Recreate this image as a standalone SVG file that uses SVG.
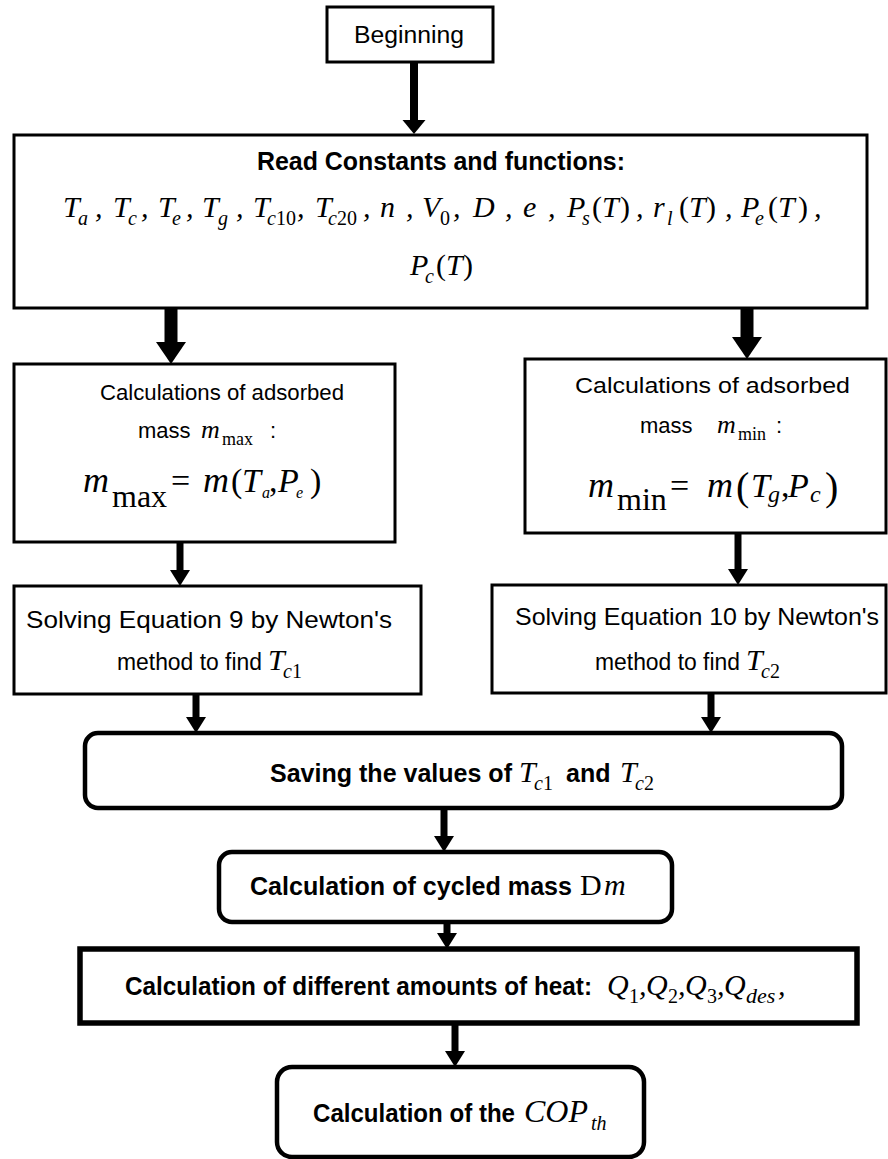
<svg xmlns="http://www.w3.org/2000/svg" width="888" height="1159" viewBox="0 0 888 1159">
<defs>
<style>
.box{fill:#fff;stroke:#000;stroke-width:3}
.rbox{fill:#fff;stroke:#000;stroke-width:4.5}
.thick{stroke-width:5.5}
.t{font-family:"Liberation Sans",Arial,sans-serif;font-size:22px;fill:#000}
.b{font-weight:bold;font-size:25px}
.m{font-family:"Liberation Serif","Times New Roman",serif;font-style:italic;font-size:30px;fill:#000}
.u{font-style:normal}
.s{font-size:20px}
.conn line{stroke:#000}
</style>
<marker id="ahS" markerUnits="userSpaceOnUse" markerWidth="16" markerHeight="20" refX="0" refY="10" orient="auto" overflow="visible"><path d="M0,0 L16,10 L0,20 Z" fill="#000"/></marker>
<marker id="ahM" markerUnits="userSpaceOnUse" markerWidth="14" markerHeight="23" refX="0" refY="11.5" orient="auto" overflow="visible"><path d="M0,0 L14,11.5 L0,23 Z" fill="#000"/></marker>
<marker id="ahL" markerUnits="userSpaceOnUse" markerWidth="22" markerHeight="30" refX="0" refY="15" orient="auto" overflow="visible"><path d="M0,0 L22,15 L0,30 Z" fill="#000"/></marker>
</defs>
<rect width="888" height="1159" fill="#fff"/>

<g id="connectors" class="conn">
<line x1="414" y1="62" x2="414" y2="120" stroke-width="8" marker-end="url(#ahM)"/>
<line x1="171" y1="308" x2="171" y2="342" stroke-width="13" marker-end="url(#ahL)"/>
<line x1="747" y1="308" x2="747" y2="337" stroke-width="13" marker-end="url(#ahL)"/>
<line x1="180" y1="542" x2="180" y2="570" stroke-width="7" marker-end="url(#ahS)"/>
<line x1="738" y1="533" x2="738" y2="569" stroke-width="7" marker-end="url(#ahS)"/>
<line x1="196" y1="694" x2="196" y2="717" stroke-width="7" marker-end="url(#ahS)"/>
<line x1="711" y1="693" x2="711" y2="717" stroke-width="7" marker-end="url(#ahS)"/>
<line x1="444" y1="808" x2="444" y2="836" stroke-width="7" marker-end="url(#ahS)"/>
<line x1="447" y1="922" x2="447" y2="933" stroke-width="7" marker-end="url(#ahS)"/>
<line x1="455" y1="1023" x2="455" y2="1051" stroke-width="7" marker-end="url(#ahS)"/>
</g>

<g id="beginning">
<rect class="box" x="327" y="7" width="166" height="55"/>
<text class="t" x="354" y="43" style="font-size:23px" textLength="110" lengthAdjust="spacingAndGlyphs">Beginning</text>
</g>

<g id="read">
<rect class="box" x="14" y="135" width="853" height="173"/>
<text class="t b" x="257" y="170" textLength="368" lengthAdjust="spacingAndGlyphs">Read Constants and functions:</text>
<text class="m"><tspan x="63" y="217">T</tspan><tspan class="s" x="78" y="225">a</tspan><tspan x="95" y="217">,</tspan><tspan x="113" y="217">T</tspan><tspan class="s" x="128" y="225">c</tspan><tspan x="141" y="217">,</tspan><tspan x="158" y="217">T</tspan><tspan class="s" x="172" y="225">e</tspan><tspan x="186" y="217">,</tspan><tspan x="202" y="217">T</tspan><tspan class="s" x="218" y="225">g</tspan><tspan x="236" y="217">,</tspan><tspan x="253" y="217">T</tspan><tspan class="s" x="267" y="225">c</tspan><tspan class="s u" x="276" y="225">10</tspan><tspan x="297" y="217">,</tspan><tspan x="315" y="217">T</tspan><tspan class="s" x="328" y="225">c</tspan><tspan class="s u" x="337" y="225">20</tspan><tspan x="363" y="217">,</tspan><tspan x="380" y="217">n</tspan><tspan x="406" y="217">,</tspan><tspan x="422" y="217">V</tspan><tspan class="s u" x="440" y="225">0</tspan><tspan x="453" y="217">,</tspan><tspan x="473" y="217">D</tspan><tspan x="505" y="217">,</tspan><tspan x="523" y="217">e</tspan><tspan x="548" y="217">,</tspan><tspan x="567" y="217">P</tspan><tspan class="s" x="582" y="225">s</tspan><tspan class="u" x="592" y="217">(</tspan><tspan x="602" y="217">T</tspan><tspan class="u" x="620" y="217">)</tspan><tspan x="636" y="217">,</tspan><tspan x="653" y="217">r</tspan><tspan class="s" x="667" y="225">l</tspan><tspan class="u" x="679" y="217">(</tspan><tspan x="689" y="217">T</tspan><tspan class="u" x="706" y="217">)</tspan><tspan x="725" y="217">,</tspan><tspan x="741" y="217">P</tspan><tspan class="s" x="755" y="225">e</tspan><tspan class="u" x="768" y="217">(</tspan><tspan x="778" y="217">T</tspan><tspan class="u" x="798" y="217">)</tspan><tspan x="814" y="217">,</tspan></text>
<text class="m"><tspan x="410" y="275">P</tspan><tspan class="s" x="425" y="283">c</tspan><tspan class="u" x="436" y="275">(</tspan><tspan x="446" y="275">T</tspan><tspan class="u" x="463" y="275">)</tspan></text>
</g>

<g id="calc-max">
<rect class="box" x="14" y="364" width="381" height="178"/>
<text class="t" x="100" y="400" textLength="244" lengthAdjust="spacingAndGlyphs">Calculations of adsorbed</text>
<text class="t" x="138" y="438">mass</text>
<text class="m" x="201" y="438" style="font-size:26px">m</text>
<text class="m u" x="222" y="445" style="font-size:18px">max</text>
<text class="t" x="270" y="438">:</text>
<text class="m" style="font-size:34px"><tspan x="83" y="492" font-size="36">m</tspan><tspan class="u" x="112" y="507" font-size="32">max</tspan><tspan class="u" x="171" y="492">=</tspan><tspan x="203" y="492" font-size="36">m</tspan><tspan class="u" x="231" y="492">(</tspan><tspan x="242" y="492">T</tspan><tspan x="262" y="498" font-size="16">a</tspan><tspan class="u" x="269" y="492">,</tspan><tspan x="278" y="492">P</tspan><tspan x="296" y="498" font-size="16">e</tspan><tspan class="u" x="310" y="492">)</tspan></text>
</g>

<g id="calc-min">
<rect class="box" x="525" y="359" width="361" height="174"/>
<text class="t" x="575" y="393" textLength="275" lengthAdjust="spacingAndGlyphs">Calculations of adsorbed</text>
<text class="t" x="640" y="433">mass</text>
<text class="m" x="717" y="433" style="font-size:26px">m</text>
<text class="m u" x="738" y="440" style="font-size:18px">min</text>
<text class="t" x="776" y="433">:</text>
<text class="m" style="font-size:34px"><tspan x="588" y="497" font-size="36">m</tspan><tspan class="u" x="617" y="510" font-size="32">min</tspan><tspan class="u" x="670" y="497">=</tspan><tspan x="707" y="497" font-size="36">m</tspan><tspan class="u" x="736" y="500" font-size="40">(</tspan><tspan x="751" y="497">T</tspan><tspan x="768" y="502" font-size="24">g</tspan><tspan class="u" x="781" y="497">,</tspan><tspan x="788" y="497">P</tspan><tspan x="810" y="502" font-size="24">c</tspan><tspan class="u" x="825" y="500" font-size="40">)</tspan></text>
</g>

<g id="solve-9">
<rect class="box" x="14" y="586" width="407" height="108"/>
<text class="t" x="26" y="628" style="font-size:24px" textLength="366" lengthAdjust="spacingAndGlyphs">Solving Equation 9 by Newton's</text>
<text class="t" x="117" y="670" style="font-size:23px" textLength="145" lengthAdjust="spacingAndGlyphs">method to find</text>
<text class="m"><tspan x="268" y="670">T</tspan><tspan class="s" x="283" y="678">c</tspan><tspan class="s u" x="292" y="678">1</tspan></text>
</g>

<g id="solve-10">
<rect class="box" x="492" y="585" width="394" height="108"/>
<text class="t" x="515" y="625" style="font-size:24px" textLength="364" lengthAdjust="spacingAndGlyphs">Solving Equation 10 by Newton's</text>
<text class="t" x="595" y="670" style="font-size:23px" textLength="145" lengthAdjust="spacingAndGlyphs">method to find</text>
<text class="m"><tspan x="746" y="670">T</tspan><tspan class="s" x="761" y="678">c</tspan><tspan class="s u" x="770" y="678">2</tspan></text>
</g>

<g id="saving">
<rect class="rbox" x="85" y="733" width="757" height="75" rx="13"/>
<text class="t b" x="270" y="782" textLength="242" lengthAdjust="spacingAndGlyphs">Saving the values of</text>
<text class="m"><tspan x="519" y="782">T</tspan><tspan class="s" x="534" y="790">c</tspan><tspan class="s u" x="543" y="790">1</tspan></text>
<text class="t b" x="566" y="782">and</text>
<text class="m"><tspan x="620" y="782">T</tspan><tspan class="s" x="635" y="790">c</tspan><tspan class="s u" x="644" y="790">2</tspan></text>
</g>

<g id="cycled">
<rect class="rbox" x="219" y="852" width="453" height="70" rx="13"/>
<text class="t b" x="250" y="895" textLength="322" lengthAdjust="spacingAndGlyphs">Calculation of cycled mass</text>
<text class="m"><tspan class="u" x="580" y="895">D</tspan><tspan x="604" y="895">m</tspan></text>
</g>

<g id="heat">
<rect class="box thick" x="80" y="949" width="777" height="74"/>
<text class="t b" x="125" y="995" textLength="467" lengthAdjust="spacingAndGlyphs">Calculation of different amounts of heat:</text>
<text class="m"><tspan x="607" y="995">Q</tspan><tspan class="s u" x="629" y="1003">1</tspan><tspan x="639" y="995">,</tspan><tspan x="646" y="995">Q</tspan><tspan class="s u" x="668" y="1003">2</tspan><tspan x="678" y="995">,</tspan><tspan x="685" y="995">Q</tspan><tspan class="s u" x="707" y="1003">3</tspan><tspan x="717" y="995">,</tspan><tspan x="724" y="995">Q</tspan><tspan x="746" y="1003" font-size="22">des</tspan><tspan x="778" y="995">,</tspan></text>
</g>

<g id="cop">
<rect class="rbox" x="277" y="1067" width="367" height="90" rx="15"/>
<text class="t b" x="313" y="1122" textLength="202" lengthAdjust="spacingAndGlyphs">Calculation of the</text>
<text class="m"><tspan x="524" y="1122" font-size="32">COP</tspan><tspan class="s" x="591" y="1130">th</tspan></text>
</g>
</svg>
